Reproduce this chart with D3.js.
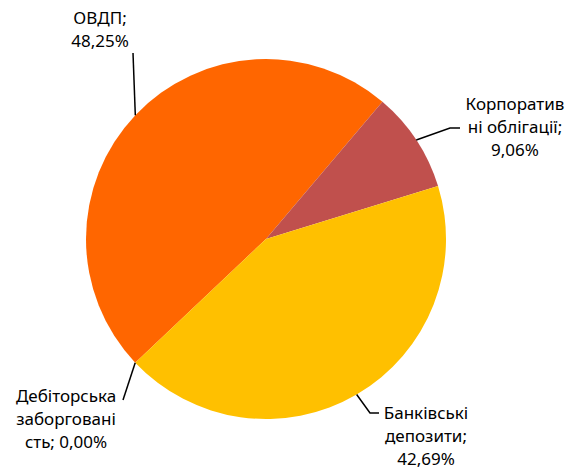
<!DOCTYPE html>
<html>
<head>
<meta charset="utf-8">
<script src="https://cdn.jsdelivr.net/npm/d3@7"></script>
<style>
  body { margin: 0; background: #fff; }
  text { font-family: "Noto Sans", sans-serif; font-size: 17px; fill: #000; }
</style>
</head>
<body>
<svg id="chart" width="577" height="471"></svg>
<script>
// data
var categories = ["ОВДП", "Корпоративні облігації", "Банківські депозити", "Дебіторська заборгованість"];
var values = [48.25, 9.06, 42.69, 0.00];
var colors = ["#FF6600", "#C0504D", "#FFC000", "#4F81BD"];
// label text as Excel wrapped it
var labelLines = [
  ["ОВДП;", "48,25%"],
  ["Корпоратив", "ні облігації;", "9,06%"],
  ["Банківські", "депозити;", "42,69%"],
  ["Дебіторська", "заборговані", "сть; 0,00%"]
];

var cx = 266, cy = 239, radius = 180;
var firstAngle = -133.4 * Math.PI / 180;

// label layout: centre x, first baseline, leader line bend/end points
var labelLayout = [
  {x: 100, y: 24, line: [[133, 53]]},
  {x: 515, y: 110, line: [[450, 128], [460, 128]]},
  {x: 426, y: 419, line: [[370, 413], [379, 413]]},
  {x: 66, y: 402, line: [[123, 400]]}
];
var lineHeight = 23;

var svg = d3.select("#chart");

var pie = d3.pie()
  .sort(null)
  .value(function(d) {return d;})
  .startAngle(firstAngle)
  .endAngle(firstAngle + 2 * Math.PI);

var arcs = pie(values);

var arc = d3.arc().innerRadius(0).outerRadius(radius);
var edge = d3.arc().innerRadius(radius).outerRadius(radius);

var g = svg.append("g").attr("transform", "translate(" + cx + "," + cy + ")");

g.selectAll(".slice")
  .data(arcs)
  .enter()
  .append("path")
    .attr("class", "slice")
    .attr("d", arc)
    .attr("fill", function(d, i) {return colors[i];});

// leader lines from slice edge to label
svg.selectAll(".leader")
  .data(arcs)
  .enter()
  .append("polyline")
    .attr("class", "leader")
    .attr("fill", "none")
    .attr("stroke", "#000")
    .attr("stroke-width", 1.5)
    .attr("points", function(d, i) {
      var a = (d.startAngle + d.endAngle) / 2;
      var p = [[cx + radius * Math.sin(a), cy - radius * Math.cos(a)]].concat(labelLayout[i].line);
      return p.map(function(q) {return q.join(",");}).join(" ");
    });

// labels
var labels = svg.selectAll(".label")
  .data(labelLines)
  .enter()
  .append("text")
    .attr("class", "label")
    .attr("text-anchor", "middle");

labels.each(function(lines, i) {
  var t = d3.select(this);
  lines.forEach(function(s, j) {
    t.append("tspan")
      .attr("x", labelLayout[i].x)
      .attr("y", labelLayout[i].y + j * lineHeight)
      .text(s);
  });
});
</script>
</body>
</html>
